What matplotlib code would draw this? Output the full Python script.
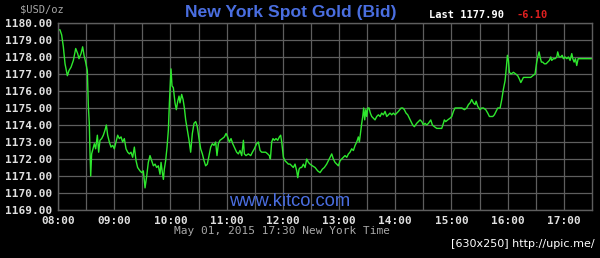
import matplotlib
matplotlib.use("Agg")
import matplotlib.pyplot as plt

# bid price, in pieces: minutes after 08:00 / USD per oz
min_a = [0.4, 2.1, 3.9, 5.7, 7.5, 10, 11.7, 13.9, 16.4, 18.9, 21, 22.4, 24.6, 26.3, 27.8,
         29.5, 31.3, 32.4, 33.4, 34.2, 34.9, 35.9, 37.4, 38.8, 40.2, 42, 43.4, 44.8, 46.6,
         48.4, 50.2, 51.6, 53, 54.8, 56.6, 58.4, 60.1, 61.9, 63.7, 65.5, 67.3, 69, 70.8,
         72.6, 74.4, 76.2, 77.9, 79.7, 81.5, 83.3, 85, 87.5, 89.3, 91.1, 92.9]
px_a = [1179.6, 1179.6, 1179.3, 1178.6, 1177.6, 1176.9, 1177.2, 1177.4, 1177.8, 1178.5,
        1178.2, 1177.9, 1178.2, 1178.6, 1178.1, 1177.7, 1177.2, 1175.1, 1174.1, 1172.3,
        1171.0, 1172.3, 1172.6, 1172.9, 1172.6, 1173.4, 1172.4, 1173.1, 1173.2, 1173.4,
        1173.7, 1174.0, 1173.4, 1173.0, 1172.7, 1172.8, 1172.6, 1173.0, 1173.4, 1173.2,
        1173.3, 1173.0, 1173.2, 1172.6, 1172.4, 1172.3, 1172.4, 1172.1, 1172.7, 1171.9,
        1171.5, 1171.3, 1171.2, 1171.3, 1170.3]

min_b = [94.7, 96.4, 98.2, 100, 101.8, 103.6, 105.3, 107.1, 108.9, 110, 111.4, 112.5,
         113.5, 114.9, 116.4, 117.8, 118.9, 119.9, 120.6, 121.7, 123.1, 124.9, 126.3,
         127.8, 129.2, 130.2, 132, 133.5, 134.9, 136.3, 138.1, 139.9, 141.6, 143.4, 145.2,
         147, 148.7, 150.5, 152.3, 154.1, 155.9, 157.6, 159.4, 161.2, 163, 164.8, 166.5,
         168.3, 169.7, 171.2, 172.9, 175.4, 177.6, 179.4, 181.1, 182.9, 184.7, 186.5]
px_b = [1171.0, 1171.8, 1172.2, 1171.9, 1171.6, 1171.7, 1171.5, 1171.6, 1171.1, 1171.8,
        1171.2, 1170.8, 1171.4, 1171.9, 1172.7, 1173.7, 1175.3, 1176.5, 1177.3, 1176.3,
        1176.2, 1175.3, 1174.9, 1175.4, 1175.7, 1175.3, 1175.8, 1175.5, 1175.0, 1174.3,
        1173.7, 1173.1, 1172.4, 1173.5, 1174.1, 1174.2, 1173.9, 1173.2, 1172.6, 1172.3,
        1171.9, 1171.6, 1171.7, 1172.2, 1172.7, 1172.9, 1172.8, 1173.0, 1172.2, 1172.9,
        1173.1, 1173.2, 1173.3, 1173.5, 1173.3, 1173.0, 1173.2, 1172.9]

min_c = [189, 190.7, 192.5, 194.3, 196.1, 197.9, 198.9, 200.7, 203.2, 205.7, 207.5, 209.6,
         212.1, 213.9, 215.7, 217.4, 219.2, 221.7, 223.8, 225.6, 226.7, 228.1, 229.5, 231,
         232.7, 234.5, 236.3, 237.7, 238.8, 240.6, 242.3, 244.1, 245.9, 247.7, 249.5, 251.2,
         253, 254.8, 255.9, 257.3, 258.7, 260.1, 261.9, 263.7, 265.5, 267.3, 269, 271.5,
         274.4, 277.2, 279.7, 282.2, 284.3, 286.8, 288.6]
px_c = [1172.6, 1172.4, 1172.3, 1172.5, 1172.2, 1173.1, 1172.3, 1172.2, 1172.3, 1172.2,
        1172.4, 1172.6, 1172.9, 1173.0, 1172.5, 1172.4, 1172.4, 1172.4, 1172.3, 1172.2,
        1172.0, 1173.0, 1173.2, 1173.1, 1173.2, 1173.1, 1173.3, 1173.4, 1173.0, 1172.1,
        1171.9, 1171.8, 1171.7, 1171.7, 1171.6, 1171.5, 1171.7, 1171.3, 1170.9, 1171.4,
        1171.5, 1171.5, 1171.7, 1171.5, 1172.0, 1171.8, 1171.7, 1171.6, 1171.5, 1171.3,
        1171.2, 1171.4, 1171.5, 1171.7, 1171.9]

min_d = [290.4, 292.2, 293.9, 295.7, 297.5, 299.3, 301.1, 302.8, 304.6, 306.4, 308.2, 310,
         311.7, 313.5, 315.3, 317.1, 318.9, 320.6, 321.7, 322.8, 324.2, 325.3, 326.3, 327.4,
         328.5, 329.5, 330.6, 332, 333.4, 334.9, 336.6, 338.4, 340.2, 342, 343.8, 345.5,
         347.3, 349.1, 350.9, 352.7, 354.4, 356.2, 358, 359.8, 361.6, 363.4, 366.2, 368,
         369.7, 371.5, 373.3, 375.1, 376.8, 378.6, 380.4]
px_d = [1172.1, 1172.3, 1172.0, 1171.8, 1171.7, 1171.6, 1171.9, 1172.0, 1172.1, 1172.2,
        1172.1, 1172.3, 1172.4, 1172.6, 1172.5, 1172.8, 1173.0, 1173.3, 1173.0, 1173.5,
        1174.1, 1174.5, 1175.0, 1174.3, 1174.9, 1174.5, 1175.0, 1175.0, 1174.7, 1174.5,
        1174.4, 1174.3, 1174.5, 1174.6, 1174.5, 1174.7, 1174.6, 1174.8, 1174.5, 1174.6,
        1174.7, 1174.6, 1174.7, 1174.6, 1174.7, 1174.8, 1175.0, 1175.0, 1174.9, 1174.7,
        1174.6, 1174.4, 1174.2, 1174.0, 1173.9]

min_e = [382.9, 384.7, 386.5, 388.3, 390, 391.8, 393.6, 395.4, 397.9, 399.6, 401.8, 404.3,
         406.8, 409.6, 411.4, 412.4, 413.9, 416, 418.5, 420.3, 422.1, 423.8, 425.6, 427.4,
         431, 433.8, 436.3, 438.1, 439.9, 441.6, 443.4, 445.2, 446.3, 448, 450.5, 452.3,
         454.1, 456.6, 458.7, 460.5, 462.3, 464.1, 465.8, 467.6, 469.4]
px_e = [1174.1, 1174.2, 1174.3, 1174.2, 1174.0, 1174.1, 1174.0, 1174.1, 1174.3, 1174.0,
        1173.9, 1173.8, 1173.8, 1173.8, 1174.1, 1174.3, 1174.2, 1174.3, 1174.4, 1174.5,
        1174.8, 1175.0, 1175.0, 1175.0, 1175.0, 1174.9, 1175.0, 1175.2, 1175.3, 1175.5,
        1175.3, 1175.2, 1175.4, 1175.1, 1174.9, 1175.0, 1175.0, 1174.9, 1174.7, 1174.5,
        1174.5, 1174.5, 1174.6, 1174.8, 1175.0]

min_f = [471.9, 473.7, 475.4, 477.2, 478.6, 479.7, 480.8, 481.8, 483.6, 486.1, 488.6, 490.7,
         492.5, 494, 495, 496.8, 499.6, 502.1, 504.6, 506.8, 509.2, 511, 512.1, 513.5, 514.6,
         516, 517.4, 519.2, 521, 522.8, 524.5, 526, 527, 528.8, 530.6, 532.4, 533.4, 534.9,
         536.6, 538.1, 539.5, 541.3, 543.1, 544.8, 546.6, 548.4, 549.5, 550.9, 552.3, 553.7,
         555.2, 557.3, 560.8, 564.4, 568, 570]
px_f = [1175.0, 1175.5, 1176.1, 1176.6, 1177.4, 1178.1, 1177.8, 1177.1, 1177.0, 1177.1,
        1177.0, 1176.9, 1176.7, 1176.5, 1176.6, 1176.8, 1176.8, 1176.8, 1176.8, 1176.9,
        1177.0, 1177.7, 1178.0, 1178.3, 1178.0, 1177.7, 1177.7, 1177.6, 1177.6, 1177.7,
        1177.8, 1178.0, 1177.8, 1177.9, 1177.9, 1178.0, 1178.3, 1178.0, 1178.0, 1178.1,
        1177.9, 1178.0, 1177.9, 1178.0, 1177.8, 1178.2, 1177.9, 1177.7, 1177.9, 1177.5,
        1177.9, 1177.9, 1177.9, 1177.9, 1177.9, 1177.9]

y_ticks = list(range(1169, 1181))
x_hours = [8, 9, 10, 11, 12, 13, 14, 15, 16, 17]

title = "New York Spot Gold (Bid)"
last_price = "1177.90"
change = "-6.10"
stamp = "May 01, 2015 17:30 New York Time"

BG = "#000000"; GRID = "#5e5e5e"; LINE = "#2ee82e"
BLUE = "#4a6ee0"; TXT = "#e0e0e0"; GREY = "#a8a8a8"
MONO = "DejaVu Sans Mono"

minutes = min_a + min_b + min_c + min_d + min_e + min_f
prices = px_a + px_b + px_c + px_d + px_e + px_f
hrs = [8 + m / 60 for m in minutes]

fig = plt.figure(figsize=(6, 2.58), dpi=100, facecolor=BG)
ax = fig.add_axes([58/600, 1 - 210/258, 534/600, 187/258])
ax.set_facecolor(BG)

ax.plot(hrs, prices, color=LINE, lw=1.0)

ax.set_xlim(8, 17.5)
ax.set_ylim(1169, 1180)
ax.set_yticks(y_ticks)
ax.set_yticklabels(["%.2f" % v for v in y_ticks], family=MONO, fontweight="bold",
                   fontsize=8, color=TXT)
ax.set_xticks(x_hours)
ax.set_xticklabels(["%02d:00" % h for h in x_hours], family=MONO, fontweight="bold",
                   fontsize=8, color=TXT)
ax.set_xticks([h + 0.5 for h in x_hours[:-1]], minor=True)
ax.tick_params(which="both", length=0, pad=4)
ax.grid(True, which="both", color=GRID, lw=0.9)
for s in ax.spines.values():
    s.set_color(GRID); s.set_linewidth(1)

fig.text(291/600, 1 - 12/258, title, ha="center", va="center",
         family="Liberation Sans", fontweight="bold", fontsize=12.6, color=BLUE)
fig.text(20/600, 1 - 10/258, "$USD/oz", ha="left", va="center", family=MONO,
         fontsize=7.5, color=GREY)
fig.text(429/600, 1 - 15/258, "Last " + last_price, ha="left", va="center", family=MONO,
         fontweight="bold", fontsize=7.5, color="white")
fig.text(517/600, 1 - 15/258, change, ha="left", va="center", family=MONO,
         fontweight="bold", fontsize=7.5, color="#e02020")
fig.text(290/600, 1 - 202/258, "www.kitco.com", ha="center", va="center",
         family="Liberation Sans", fontsize=13.2, color=BLUE)
fig.text(282/600, 1 - 231/258, stamp, ha="center", va="center",
         family=MONO, fontsize=8, color=GREY)
fig.text(595/600, 1 - 244/258, "[630x250] http://upic.me/", ha="right", va="center",
         fontsize=8, color="white")

fig.savefig("out.png", dpi=100, facecolor=BG)
